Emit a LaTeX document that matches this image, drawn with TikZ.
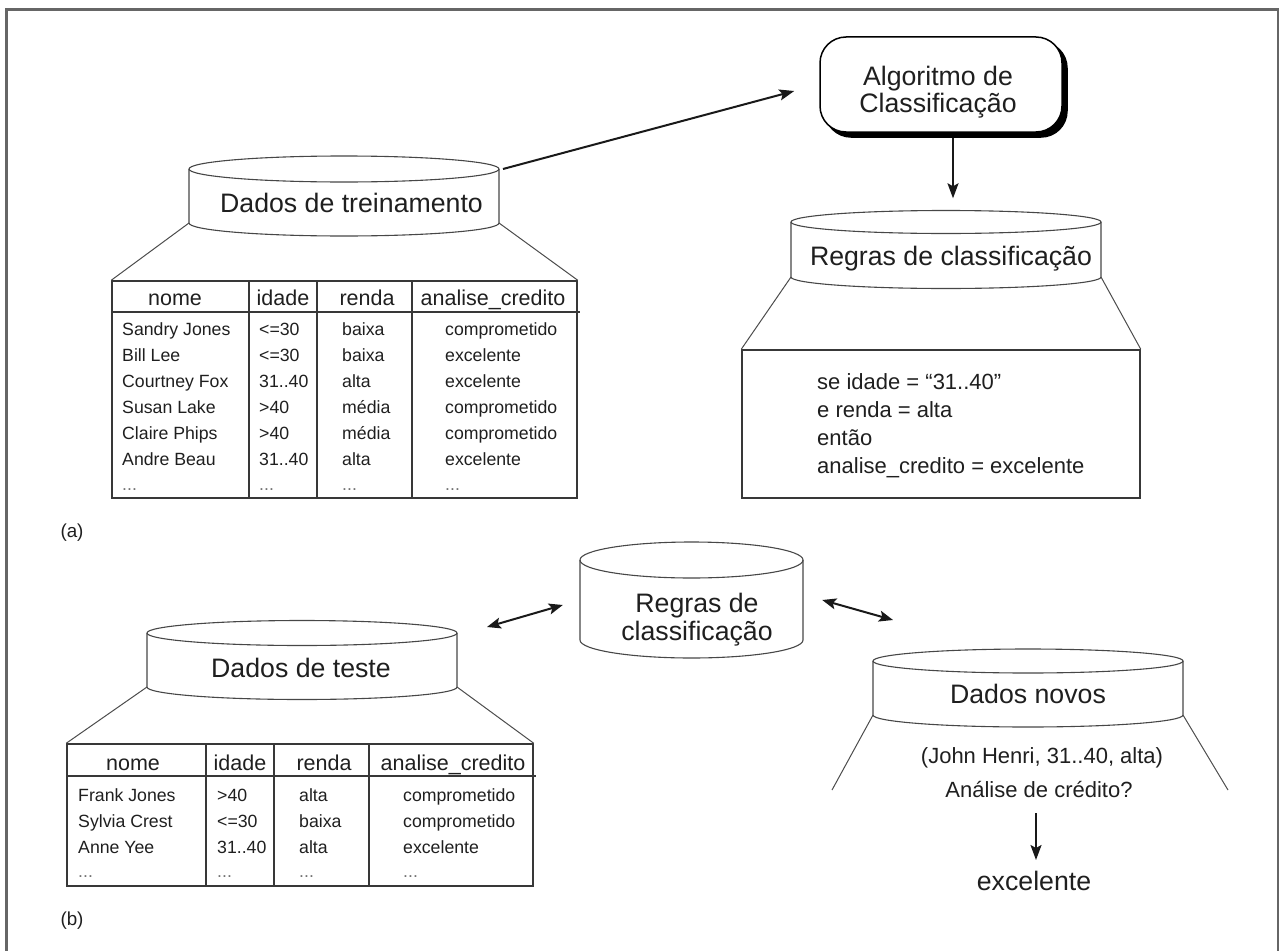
\documentclass[tikz,border=0pt]{standalone}
\usepackage{fontspec}
\setmainfont{Liberation Sans}
\usetikzlibrary{arrows.meta,calc}
\newcommand{\FBig}{\fontsize{26.7}{27}\selectfont}
\newcommand{\FHead}{\fontsize{21.5}{24}\selectfont}
\newcommand{\FRow}{\fontsize{17.7}{20}\selectfont}
\newcommand{\FMid}{\fontsize{22}{26}\selectfont}
\newcommand{\FLab}{\fontsize{18.8}{22}\selectfont}
\newcommand{\dbcylinder}[6]{%
  \draw[cyl] ({#2-#5},#3) -- ({#2-#5},#4)
    .. controls ({#2-#5},{#4+0.5523*#6}) and ({#2-0.5523*#5},{#4+#6}) .. (#2,{#4+#6})
    .. controls ({#2+0.5523*#5},{#4+#6}) and ({#2+#5},{#4+0.5523*#6}) .. ({#2+#5},#4)
    -- ({#2+#5},#3);
  \draw[cyl] (#2,#3) ellipse [x radius=#5, y radius=#6];
  \coordinate (#1-tl) at ({#2-#5},#3);
  \coordinate (#1-tr) at ({#2+#5},#3);
  \coordinate (#1-bl) at ({#2-#5},#4);
  \coordinate (#1-br) at ({#2+#5},#4);
  \node[inner sep=0, minimum width={2*#5}, minimum height={#4-#3+2*#6}] (#1) at (#2,{(#3+#4)/2}) {};
}
\tikzset{
  cyl/.style={draw=black!72, line width=1.1},
  tabline/.style={draw=black!78, line width=1.5},
  diag/.style={draw=black!70, line width=1},
  arr/.style={-{Stealth[length=15pt,width=11pt,inset=3pt]}, line width=2, black!90},
  arrb/.style={{Stealth[length=14pt,width=11pt,inset=3pt]}-{Stealth[length=14pt,width=11pt,inset=3pt]}, line width=2, black!90},
  txt/.style={inner sep=0, text=black!88},
  big/.style={txt, font=\FBig, anchor=base},
  head/.style={txt, font=\FHead, anchor=base},
  row/.style={txt, font=\FRow, anchor=base west},
  mid/.style={txt, font=\FMid},
  lab/.style={txt, font=\FLab, anchor=base},
  box/.style={tabline, inner sep=0},
  algbox/.style={draw=black, line width=1.5, rounded corners=26pt, minimum width=242, minimum height=95, inner sep=0},
}
\begin{document}
\begin{tikzpicture}[x=1pt,y=-1pt]
\useasboundingbox (0,0) rectangle (1284,950);
% frame
\draw[black!60, line width=2.5] (6.5,952) -- (6.5,9.5) -- (1278,9.5) -- (1278,952);

% ---------- (a) ----------
\dbcylinder{train}{344}{169}{223}{155}{13}
\node[big] (traintxt) at (351.5,212) {Dados de treinamento};

\node[box, minimum width=465, minimum height=217] (tab1) at (344.5,389.5) {};
\draw[tabline] (112,312) -- (580,312);
\foreach \cx in {249,317,412} \draw[tabline] (\cx,281) -- (\cx,498);
\draw[diag] (train-bl) -- (tab1.north west);
\draw[diag] (train-br) -- (tab1.north east);
\node[head] (h1a) at (175,305) {nome};
\node[head] (h1b) at (283,305) {idade};
\node[head] (h1c) at (367,305) {renda};
\node[head] (h1d) at (493,305) {analise\_credito};
\foreach \n/\a/\r/\c [count=\i] in {Sandry Jones/<=30/baixa/comprometido,Bill Lee/<=30/baixa/excelente,Courtney Fox/31..40/alta/excelente,Susan Lake/>40/média/comprometido,Claire Phips/>40/média/comprometido,Andre Beau/31..40/alta/excelente}{
  \node[row] (t1n\i) at (122,{335+26*(\i-1)}) {\n};
  \node[row] (t1a\i) at (259,{335+26*(\i-1)}) {\a};
  \node[row] (t1r\i) at (342,{335+26*(\i-1)}) {\r};
  \node[row] (t1c\i) at (445,{335+26*(\i-1)}) {\c};
}
\node[row, text=black!55] (t1n7) at (122,490) {...};
\node[row, text=black!55] (t1a7) at (259,490) {...};
\node[row, text=black!55] (t1r7) at (342,490) {...};
\node[row, text=black!55] (t1c7) at (445,490) {...};

% algorithm box
\node[algbox, fill=black] (algshadow) at (946,89.5) {};
\node[algbox, fill=white] (alg) at (941,84.5) {};
\node[big] (alg1) at (938,85) {Algoritmo de};
\node[big] (alg2) at (938,112) {Classificação};

\draw[arr] ($(train-tr)+(4,0)$) -- ($(alg.west)+(-25,6.5)$);

% rules
\dbcylinder{rules}{946}{222}{277}{155}{11.5}
\node[big] (rulestxt) at (951,265) {Regras de classificação};
\draw[arr] ($(alg.south)+(12,5)$) -- ($(rules.north)+(7,-12)$);

\node[box, minimum width=398, minimum height=148] (rbox) at (941,424) {};
\draw[diag] (rules-bl) -- (rbox.north west);
\draw[diag] (rules-br) -- (rbox.north east);
\node[mid, anchor=base west] (ru1) at (817,389) {se idade = “31..40”};
\node[mid, anchor=base west] (ru2) at (817,417) {e renda = alta};
\node[mid, anchor=base west] (ru3) at (817,445) {então};
\node[mid, anchor=base west] (ru4) at (817,473) {analise\_credito = excelente};

\node[lab] (la) at (72,537) {(a)};

% ---------- (b) ----------
\dbcylinder{midc}{691.5}{560}{640}{111.5}{18}
\node[big] (mid1) at (697,612) {Regras de};
\node[big] (mid2) at (697,640) {classificação};

\dbcylinder{test}{302}{633}{687}{155}{12.5}
\node[big] (testtxt) at (301,677) {Dados de teste};

\node[box, minimum width=466, minimum height=142] (tab2) at (300,815) {};
\draw[tabline] (67,776) -- (536,776);
\foreach \cx in {206,274,369} \draw[tabline] (\cx,744) -- (\cx,886);
\draw[diag] (test-bl) -- (tab2.north west);
\draw[diag] (test-br) -- (tab2.north east);
\node[head] (h2a) at (133,770) {nome};
\node[head] (h2b) at (240,770) {idade};
\node[head] (h2c) at (324,770) {renda};
\node[head] (h2d) at (453,770) {analise\_credito};
\foreach \n/\a/\r/\c [count=\i] in {Frank Jones/>40/alta/comprometido,Sylvia Crest/<=30/baixa/comprometido,Anne Yee/31..40/alta/excelente}{
  \node[row] (t2n\i) at (78,{801+26*(\i-1)}) {\n};
  \node[row] (t2a\i) at (217,{801+26*(\i-1)}) {\a};
  \node[row] (t2r\i) at (299,{801+26*(\i-1)}) {\r};
  \node[row] (t2c\i) at (403,{801+26*(\i-1)}) {\c};
}
\node[row, text=black!55] (t2n4) at (78,877) {...};
\node[row, text=black!55] (t2a4) at (217,877) {...};
\node[row, text=black!55] (t2r4) at (299,877) {...};
\node[row, text=black!55] (t2c4) at (403,877) {...};

\dbcylinder{new}{1028}{661}{715}{155}{12}
\node[big] (newtxt) at (1028,703) {Dados novos};
\coordinate (newl) at (832,790);
\coordinate (newr) at (1228,790);
\draw[diag] (new-bl) -- (newl);
\draw[diag] (new-br) -- (newr);
\node[mid, anchor=base] (john) at (1042,763) {(John Henri, 31..40, alta)};
\node[mid, anchor=base] (q) at (1039,797) {Análise de crédito?};
\node[big] (ex) at (1034,890) {excelente};
\draw[arr] ($(q.base)+(-3,16)$) -- ($(ex.base)+(2,-30)$);

\draw[arrb] ($(test-tr)+(30,-6)$) -- ($(midc.west)+(-17,5)$);
\draw[arrb] ($(midc.east)+(19,0)$) -- ($(new-tl)+(20,-41)$);

\node[lab] (lb) at (72,925) {(b)};
\end{tikzpicture}
\end{document}
